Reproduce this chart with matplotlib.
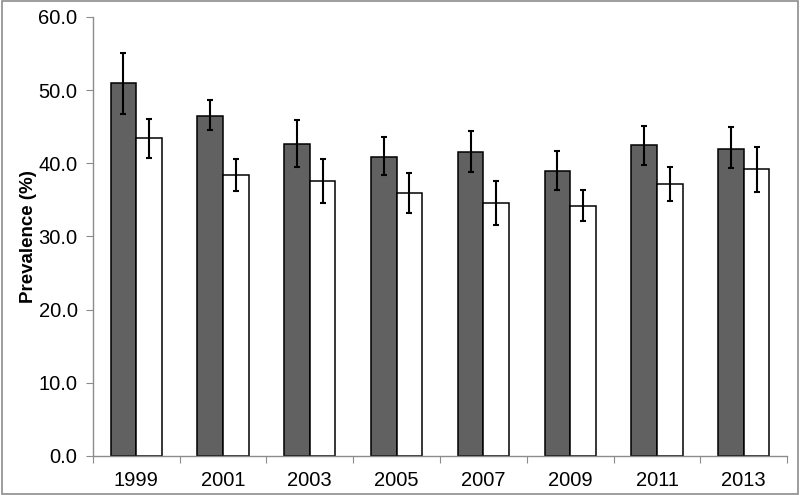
import numpy as np
import matplotlib
matplotlib.use("Agg")
import matplotlib.pyplot as plt
from matplotlib.patches import Rectangle

plt.rcParams['font.family'] = ['Liberation Sans', 'DejaVu Sans']

# ===== DATA =====
years = ["1999", "2001", "2003", "2005", "2007", "2009", "2011", "2013"]
dark_vals = [51.0, 46.4, 42.6, 40.8, 41.5, 38.9, 42.5, 42.0]
dark_low = [46.7, 44.5, 39.5, 38.4, 38.8, 36.3, 39.8, 39.3]
dark_high = [55.1, 48.6, 45.9, 43.6, 44.4, 41.6, 45.1, 45.0]
white_vals = [43.4, 38.4, 37.6, 35.9, 34.5, 34.2, 37.2, 39.2]
white_low = [40.7, 36.2, 34.6, 33.2, 31.5, 32.1, 34.8, 36.1]
white_high = [46.1, 40.6, 40.6, 38.7, 37.5, 36.4, 39.5, 42.2]

# ===== PLOT =====
fig = plt.figure(figsize=(8, 4.95), dpi=100)
ax = fig.add_axes([0.116, 0.079, 0.868, 0.887])

x = np.arange(len(years))
w = 0.295
dv = np.array(dark_vals)
wv = np.array(white_vals)
dark_err = [dv - np.array(dark_low), np.array(dark_high) - dv]
white_err = [wv - np.array(white_low), np.array(white_high) - wv]

ekw = dict(elinewidth=1.5, capthick=1.5, capsize=2.5, ecolor='black')
ax.bar(x - w/2, dv, w, color='#616161', edgecolor='black', linewidth=1.1,
       yerr=dark_err, error_kw=ekw)
ax.bar(x + w/2, wv, w, color='white', edgecolor='black', linewidth=1.1,
       yerr=white_err, error_kw=ekw)

ax.set_xlim(-0.5, len(years) - 0.5)
ax.set_ylim(0, 60)
ax.set_yticks(np.arange(0, 61, 10))
ax.set_yticklabels([f"{v:.1f}" for v in np.arange(0, 61, 10)], fontsize=14.5)

# category boundary ticks + centered labels (excel style)
ax.set_xticks(np.arange(-0.5, len(years), 1.0))
ax.set_xticklabels([])
ax.set_xticks(x, minor=True)
ax.set_xticklabels(years, minor=True, fontsize=14.5)
ax.tick_params(axis='x', which='major', length=5, color='#8c8c8c', direction='out')
ax.tick_params(axis='x', which='minor', length=0, pad=11)
ax.tick_params(axis='y', length=5, color='#8c8c8c', direction='out', pad=6)

for s in ['top', 'right']:
    ax.spines[s].set_visible(False)
for s in ['left', 'bottom']:
    ax.spines[s].set_color('#8c8c8c')
    ax.spines[s].set_linewidth(1.0)

ax.set_ylabel("Prevalence (%)", fontsize=13.5, fontweight='bold', labelpad=1)

# outer chart border
fig.patches.append(Rectangle((0.002, 0.003), 0.996, 0.994, transform=fig.transFigure,
                             fill=False, edgecolor='#8c8c8c', linewidth=1.2))

fig.savefig("out.png", dpi=100)
